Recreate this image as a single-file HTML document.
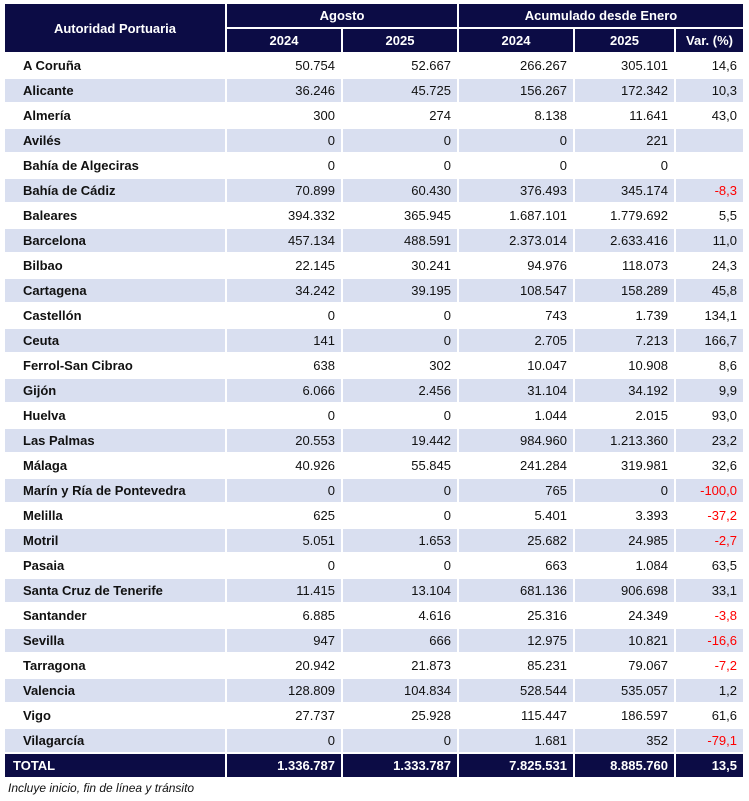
<!DOCTYPE html>
<html><head><meta charset="utf-8"><style>
body{margin:0;background:#fff;width:749px;height:801px;overflow:hidden;font-family:"Liberation Sans",Arial,sans-serif;}
table{position:absolute;left:3px;top:2px;border-collapse:separate;border-spacing:2px;font-size:13px;color:#111;}
td,th{height:23px;padding:0 6px;box-sizing:border-box;white-space:nowrap;}
th{background:#0c0c45;color:#fff;font-weight:bold;text-align:center;}
td{text-align:right;}
td:first-child{text-align:left;font-weight:bold;padding-left:18px;}
tr.b td{background:#d9dff0;}
tr.t td{background:#0c0c45;color:#fff;font-weight:bold;}
.r{color:#ff0000;}
.note{position:absolute;left:8px;top:781px;font-size:12px;font-style:italic;color:#111;}
</style></head><body>
<table>
<colgroup><col style="width:220px"><col style="width:114px"><col style="width:114px"><col style="width:114px"><col style="width:99px"><col style="width:67px"></colgroup>
<tr><th rowspan="2">Autoridad Portuaria</th><th colspan="2">Agosto</th><th colspan="3">Acumulado desde Enero</th></tr>
<tr><th>2024</th><th>2025</th><th>2024</th><th>2025</th><th>Var. (%)</th></tr>
<tr><td>A Coruña</td><td>50.754</td><td>52.667</td><td>266.267</td><td>305.101</td><td>14,6</td></tr>
<tr class="b"><td>Alicante</td><td>36.246</td><td>45.725</td><td>156.267</td><td>172.342</td><td>10,3</td></tr>
<tr><td>Almería</td><td>300</td><td>274</td><td>8.138</td><td>11.641</td><td>43,0</td></tr>
<tr class="b"><td>Avilés</td><td>0</td><td>0</td><td>0</td><td>221</td><td></td></tr>
<tr><td>Bahía de Algeciras</td><td>0</td><td>0</td><td>0</td><td>0</td><td></td></tr>
<tr class="b"><td>Bahía de Cádiz</td><td>70.899</td><td>60.430</td><td>376.493</td><td>345.174</td><td class="r">-8,3</td></tr>
<tr><td>Baleares</td><td>394.332</td><td>365.945</td><td>1.687.101</td><td>1.779.692</td><td>5,5</td></tr>
<tr class="b"><td>Barcelona</td><td>457.134</td><td>488.591</td><td>2.373.014</td><td>2.633.416</td><td>11,0</td></tr>
<tr><td>Bilbao</td><td>22.145</td><td>30.241</td><td>94.976</td><td>118.073</td><td>24,3</td></tr>
<tr class="b"><td>Cartagena</td><td>34.242</td><td>39.195</td><td>108.547</td><td>158.289</td><td>45,8</td></tr>
<tr><td>Castellón</td><td>0</td><td>0</td><td>743</td><td>1.739</td><td>134,1</td></tr>
<tr class="b"><td>Ceuta</td><td>141</td><td>0</td><td>2.705</td><td>7.213</td><td>166,7</td></tr>
<tr><td>Ferrol-San Cibrao</td><td>638</td><td>302</td><td>10.047</td><td>10.908</td><td>8,6</td></tr>
<tr class="b"><td>Gijón</td><td>6.066</td><td>2.456</td><td>31.104</td><td>34.192</td><td>9,9</td></tr>
<tr><td>Huelva</td><td>0</td><td>0</td><td>1.044</td><td>2.015</td><td>93,0</td></tr>
<tr class="b"><td>Las Palmas</td><td>20.553</td><td>19.442</td><td>984.960</td><td>1.213.360</td><td>23,2</td></tr>
<tr><td>Málaga</td><td>40.926</td><td>55.845</td><td>241.284</td><td>319.981</td><td>32,6</td></tr>
<tr class="b"><td>Marín y Ría de Pontevedra</td><td>0</td><td>0</td><td>765</td><td>0</td><td class="r">-100,0</td></tr>
<tr><td>Melilla</td><td>625</td><td>0</td><td>5.401</td><td>3.393</td><td class="r">-37,2</td></tr>
<tr class="b"><td>Motril</td><td>5.051</td><td>1.653</td><td>25.682</td><td>24.985</td><td class="r">-2,7</td></tr>
<tr><td>Pasaia</td><td>0</td><td>0</td><td>663</td><td>1.084</td><td>63,5</td></tr>
<tr class="b"><td>Santa Cruz de Tenerife</td><td>11.415</td><td>13.104</td><td>681.136</td><td>906.698</td><td>33,1</td></tr>
<tr><td>Santander</td><td>6.885</td><td>4.616</td><td>25.316</td><td>24.349</td><td class="r">-3,8</td></tr>
<tr class="b"><td>Sevilla</td><td>947</td><td>666</td><td>12.975</td><td>10.821</td><td class="r">-16,6</td></tr>
<tr><td>Tarragona</td><td>20.942</td><td>21.873</td><td>85.231</td><td>79.067</td><td class="r">-7,2</td></tr>
<tr class="b"><td>Valencia</td><td>128.809</td><td>104.834</td><td>528.544</td><td>535.057</td><td>1,2</td></tr>
<tr><td>Vigo</td><td>27.737</td><td>25.928</td><td>115.447</td><td>186.597</td><td>61,6</td></tr>
<tr class="b"><td>Vilagarcía</td><td>0</td><td>0</td><td>1.681</td><td>352</td><td class="r">-79,1</td></tr>
<tr class="t"><td style="padding-left:8px">TOTAL</td><td>1.336.787</td><td>1.333.787</td><td>7.825.531</td><td>8.885.760</td><td>13,5</td></tr>
</table>
<div class="note">Incluye inicio, fin de línea y tránsito</div>
</body></html>
